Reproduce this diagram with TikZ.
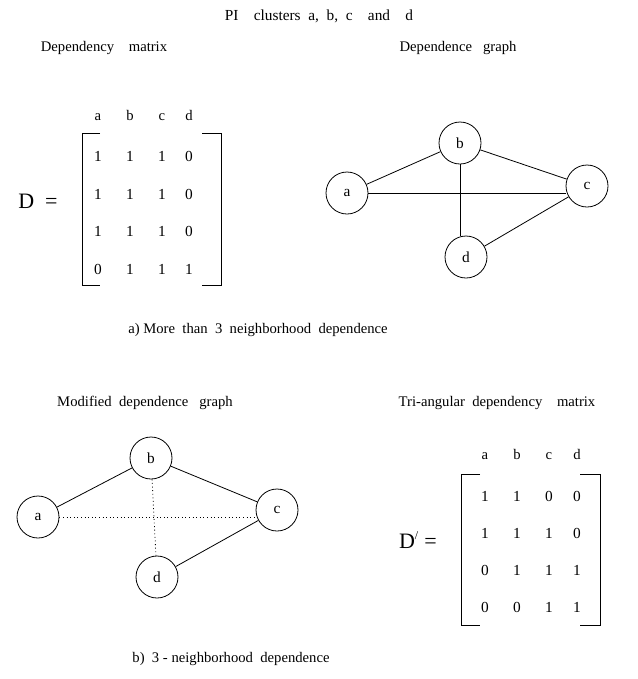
\documentclass[tikz,border=0pt]{standalone}
\usepackage{fontspec}
\setmainfont{Liberation Serif}
\begin{document}
\begin{tikzpicture}[x=0.75pt,y=-0.75pt,
        vertex/.style={draw,circle,line width=0.6pt,minimum size=31.5pt,inner sep=0pt,font=\fontsize{11.5}{13}\selectfont},
        lbl/.style={font=\fontsize{11}{13}\selectfont,text height=1.6ex,text depth=0.4ex},
        entry/.style={font=\fontsize{11.5}{13}\selectfont,text height=1.6ex,text depth=0.2ex},
        big/.style={font=\fontsize{16.5}{18}\selectfont},
        edge/.style={line width=0.6pt},
        weak/.style={line width=0.6pt,dash pattern=on 0.7pt off 2pt}]
    \useasboundingbox (0,0) rectangle (638,679);
    % titles
        \node[lbl,font=\fontsize{11.5}{13}\selectfont] (title) at (319,17) {PI\ \ \ \ clusters\ \ a,\ \ b,\ \ c\ \ \ \ and\ \ \ \ d};
        \node[lbl] (tmat) at (104,48) {Dependency\ \ \ \ matrix};
        \node[lbl] (tgraph) at (458,48) {Dependence\ \ \ graph};
        \node[lbl] (capa) at (258,330) {a)\ More\ \ than\ \ 3\ \ neighborhood\ \ dependence};
        \node[lbl] (tmod) at (145,403) {Modified\ \ dependence\ \ \ graph};
        \node[lbl] (ttri) at (497,403) {Tri-angular\ \ dependency\ \ \ \ matrix};
        \node[lbl] (capb) at (231,659) {b)\ \ 3 - neighborhood\ \ dependence};
    % dependency matrix
        \node[big] (dlhs) at (38,201) {D\ \ =};
        \draw[edge] (100,133) -- (82,133) -- (82,285) -- (100,285);
        \draw[edge] (202,133) -- (221,133) -- (221,285) -- (202,285);
        \foreach \n/\x in {a/98,b/130,c/162,d/189}{
            \node[lbl] (h\n) at (\x,117) {\n};
        }
        \foreach \y/\p/\q/\s/\t in {157/1/1/1/0,195/1/1/1/0,232/1/1/1/0,270/0/1/1/1}{
            \node[entry] (m\y a) at (98,\y) {\p};
            \node[entry] (m\y b) at (130,\y) {\q};
            \node[entry] (m\y c) at (162,\y) {\s};
            \node[entry] (m\y d) at (189,\y) {\t};
        }
    % dependence graph
        \node[vertex] (a) at (347,193) {a};
        \node[vertex] (b) at (460,143) {b};
        \node[vertex] (c) at (587,186) {c};
        \node[vertex] (d) at (466,257) {d};
        \foreach \u/\v in {a/b,b/c,c/d}{
            \draw[edge] (\u) -- (\v);
        }
        \draw[edge] (a.east) -- (a.east -| c.west);
        \draw[edge] (b.south) -- (b.south |- d.north);
    % modified dependence graph
        \node[vertex] (a2) at (38,517) {a};
        \node[vertex] (b2) at (151,458) {b};
        \node[vertex] (c2) at (277,510) {c};
        \node[vertex] (d2) at (157,577) {d};
        \foreach \u/\v in {a2/b2,b2/c2,c2/d2}{
            \draw[edge] (\u) -- (\v);
        }
        \draw[weak] (a2.east) -- (a2.east -| c2.west);
        \draw[weak] (b2) -- (d2);
    % tri-angular matrix
        \node[big] (dlhs2) at (418,540) {D\textsuperscript{\fontsize{9}{9}\selectfont /}\ =};
        \draw[edge] (480,474) -- (461,474) -- (461,625) -- (480,625);
        \draw[edge] (580,474) -- (600,474) -- (600,625) -- (580,625);
        \foreach \n/\x in {a/485,b/517,c/549,d/577}{
            \node[lbl] (k\n) at (\x,456) {\n};
        }
        \foreach \y/\p/\q/\s/\t in {497/1/1/0/0,534/1/1/1/0,571/0/1/1/1,608/0/0/1/1}{
            \node[entry] (t\y a) at (485,\y) {\p};
            \node[entry] (t\y b) at (517,\y) {\q};
            \node[entry] (t\y c) at (549,\y) {\s};
            \node[entry] (t\y d) at (577,\y) {\t};
        }
\end{tikzpicture}
\end{document}
